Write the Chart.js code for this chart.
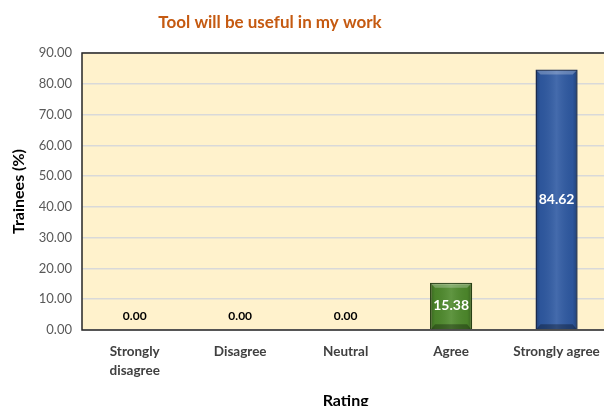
<!DOCTYPE html>
<html>
<head>
<meta charset="utf-8">
<script src="https://cdn.jsdelivr.net/npm/chart.js@4.4.0/dist/chart.umd.min.js"></script>
<style>
  html, body { margin: 0; padding: 0; overflow: hidden; background: #fff; }
  #wrap { width: 612px; height: 406px; position: relative; }
</style>
</head>
<body>
<div id="wrap"><canvas id="chart"></canvas></div>
<script>
const categories = [['Strongly', 'disagree'], 'Disagree', 'Neutral', 'Agree', 'Strongly agree'];
const trainees = [0, 0, 0, 15.38, 84.62];
const yTicks = [0, 10, 20, 30, 40, 50, 60, 70, 80, 90];

const FONT = 'Lato, "Open Sans", sans-serif';

// background, frame, bevel look, value labels and title
const plotDecor = {
  id: 'plotDecor',
  beforeDraw(chart) {
    const {ctx, chartArea: a} = chart;
    ctx.save();
    ctx.fillStyle = '#FFF2CC';
    ctx.fillRect(a.left, a.top, a.width, a.height);
    ctx.restore();
  },
  afterDatasetsDraw(chart) {
    const {ctx, chartArea: a} = chart;
    const meta = chart.getDatasetMeta(0);
    ctx.save();
    meta.data.forEach((bar, i) => {
      const v = trainees[i];
      if (v <= 0) return;
      const w = bar.width, l = bar.x - w / 2, r = bar.x + w / 2, t = bar.y, b = bar.base;
      const g = ctx.createLinearGradient(l, 0, r, 0);
      g.addColorStop(0, 'rgba(0,0,0,0.28)');
      g.addColorStop(0.12, 'rgba(0,0,0,0.05)');
      g.addColorStop(0.5, 'rgba(255,255,255,0.10)');
      g.addColorStop(0.88, 'rgba(0,0,0,0.05)');
      g.addColorStop(1, 'rgba(0,0,0,0.28)');
      ctx.fillStyle = g;
      ctx.fillRect(l + 1, t + 1, w - 2, b - t - 1);
      const e = 5;
      ctx.fillStyle = 'rgba(255,255,255,0.25)';
      ctx.beginPath();
      ctx.moveTo(l + 1, t + 1); ctx.lineTo(r - 1, t + 1); ctx.lineTo(r - e, t + e); ctx.lineTo(l + e, t + e);
      ctx.closePath(); ctx.fill();
      ctx.fillStyle = 'rgba(0,0,0,0.3)';
      ctx.beginPath();
      ctx.moveTo(l + 1, b); ctx.lineTo(r - 1, b); ctx.lineTo(r - e, b - e); ctx.lineTo(l + e, b - e);
      ctx.closePath(); ctx.fill();
    });
    // plot frame
    ctx.strokeStyle = '#262626';
    ctx.lineWidth = 1.5;
    ctx.strokeRect(a.left, a.top, a.width, a.height);
    // value labels
    ctx.textAlign = 'center';
    ctx.textBaseline = 'middle';
    meta.data.forEach((bar, i) => {
      const v = trainees[i];
      if (v === 0) {
        ctx.font = 'bold 12px ' + FONT;
        ctx.fillStyle = '#000';
        ctx.fillText(v.toFixed(2), bar.x, bar.base - 14);
      } else {
        ctx.font = 'bold 14px ' + FONT;
        ctx.fillStyle = '#fff';
        ctx.fillText(v.toFixed(2), bar.x, (bar.y + bar.base) / 2);
      }
    });
    ctx.restore();
  },
  afterDraw(chart) {
    const ctx = chart.ctx;
    ctx.save();
    ctx.font = 'bold 17px ' + FONT;
    ctx.fillStyle = '#C55A11';
    ctx.textAlign = 'center';
    ctx.textBaseline = 'middle';
    ctx.fillText('Tool will be useful in my work', 270, 23);
    ctx.restore();
  }
};

new Chart(document.getElementById('chart'), {
  type: 'bar',
  data: {
    labels: categories,
    datasets: [{
      label: 'Trainees (%)',
      data: trainees,
      backgroundColor: ['#4F7F2A', '#4F7F2A', '#4F7F2A', '#4E8A2C', '#2F5AA3'],
      borderColor: ['#2A4416', '#2A4416', '#2A4416', '#2A4416', '#1B2F55'],
      borderWidth: 1.5,
      barPercentage: 0.4,
      categoryPercentage: 1
    }]
  },
  options: {
    responsive: true,
    maintainAspectRatio: false,
    animation: false,
    layout: { padding: { top: 53, left: 9, right: 2, bottom: 0 } },
    plugins: {
      legend: { display: false },
      tooltip: { enabled: false }
    },
    scales: {
      x: {
        grid: { display: false, drawTicks: false },
        border: { display: false },
        ticks: {
          padding: 12,
          color: '#404040',
          font: { family: FONT, size: 13.5, weight: 'bold', lineHeight: 1.4 }
        },
        title: {
          display: true,
          text: 'Rating',
          color: '#000',
          padding: { top: 0, bottom: -4 },
          font: { family: FONT, size: 16, weight: 'bold' }
        },
        afterFit(scale) { scale.height = 76; }
      },
      y: {
        min: 0,
        max: 90,
        afterBuildTicks(scale) { scale.ticks = yTicks.map(v => ({value: v})); },
        grid: { color: '#D9D9D9', lineWidth: 1.5, drawTicks: false },
        border: { display: false },
        ticks: {
          padding: 10,
          color: '#595959',
          font: { family: FONT, size: 13 },
          callback: v => Number(v).toFixed(2)
        },
        title: {
          display: true,
          text: 'Trainees (%)',
          color: '#000',
          padding: 0,
          font: { family: FONT, size: 16, weight: 'bold' }
        },
        afterFit(scale) { scale.width = 73; }
      }
    }
  },
  plugins: [plotDecor]
});
</script>
</body>
</html>
